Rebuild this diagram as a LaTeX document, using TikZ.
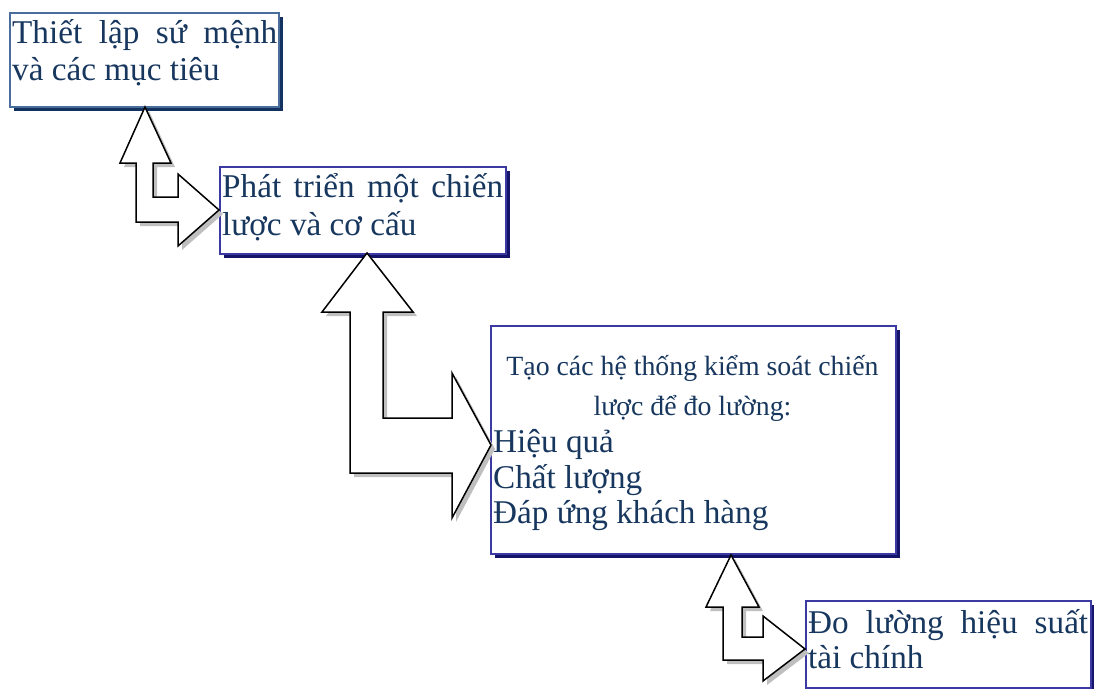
\documentclass[tikz,border=0pt]{standalone}
\usepackage{fontspec}
\setmainfont{Liberation Serif}
\usetikzlibrary{shadows}
\definecolor{txtblue}{HTML}{17375E}
\definecolor{edgeA}{HTML}{4A6E9C}
\definecolor{shadeA}{HTML}{13325F}
\definecolor{edgeB}{HTML}{3A3AA2}
\definecolor{shadeB}{HTML}{14146A}
\tikzset{
  boxA/.style={draw=edgeA, line width=2pt, fill=white, anchor=north west, inner sep=0pt,
    drop shadow={shadow xshift=3.5pt, shadow yshift=-3.5pt, fill=shadeA, opacity=1}},
  boxB/.style={draw=edgeB, line width=2pt, fill=white, anchor=north west, inner sep=0pt,
    drop shadow={shadow xshift=3.5pt, shadow yshift=-3.5pt, fill=shadeB, opacity=1}},
  txt/.style={text=txtblue, inner sep=0pt, anchor=base west, font=\fontsize{33.2}{38}\selectfont},
  txtc/.style={text=txtblue, inner sep=0pt, anchor=base, font=\fontsize{27.8}{32}\selectfont},
  blockarrow/.style={draw=black, line width=1.5pt, fill=white, line join=miter},
  arrowshade/.style={fill=gray!50, draw=none},
}
\begin{document}
\begin{tikzpicture}[x=1pt, y=-1pt]
\useasboundingbox (0,0) rectangle (1094,688);

% boxes
\node[boxA, minimum width=269pt, minimum height=94pt] (b1) at (9,12) {};
\node[boxB, minimum width=286pt, minimum height=87pt] (b2) at (219,166) {};
\node[boxB, minimum width=405pt, minimum height=228pt] (b3) at (490,325) {};
\node[boxB, minimum width=285pt, minimum height=87pt] (b4) at (805,600) {};

% bent block arrows: shadow first, then the white arrow on top
\foreach \s/\st in {{(4,4)}/arrowshade, {(0,0)}/blockarrow}{
  \path[\st, shift=\s]
    (145,107) -- (171,163) -- (153,163) -- (153,197) -- (178,197) -- (178,174)
    -- (219,210) -- (178,246) -- (178,222) -- (136,222) -- (136,163) -- (120,163) -- cycle;
  \path[\st, shift=\s]
    (367,253) -- (413,312) -- (383,312) -- (383,418) -- (452,418) -- (452,373)
    -- (491,445) -- (452,518) -- (452,473) -- (350,473) -- (350,312) -- (322,312) -- cycle;
  \path[\st, shift=\s]
    (731,555) -- (759,607) -- (742,607) -- (742,637) -- (763,637) -- (763,616)
    -- (805,649) -- (763,681) -- (763,660) -- (723,660) -- (723,607) -- (706,607) -- cycle;
}

% box texts
\node[txt] (t1a) at (12,43) {\makebox[265pt][s]{Thiết lập sứ mệnh}};
\node[txt] (t1b) at (12,80) {và các mục tiêu};

\node[txt] (t2a) at (222,197) {\makebox[281pt][s]{Phát triển một chiến}};
\node[txt] (t2b) at (222,235) {lược và cơ cấu};

\node[txtc] (t3a) at (692.5,375) {Tạo các hệ thống kiểm soát chiến};
\node[txtc] (t3b) at (692.5,415) {lược để đo lường:};
\node[txt] (t3c) at (493,452) {Hiệu quả};
\node[txt] (t3d) at (493,488) {Chất lượng};
\node[txt] (t3e) at (493,523) {Đáp ứng khách hàng};

\node[txt] (t4a) at (808,633) {\makebox[280pt][s]{Đo lường hiệu suất}};
\node[txt] (t4b) at (808,668) {tài chính};
\end{tikzpicture}
\end{document}
